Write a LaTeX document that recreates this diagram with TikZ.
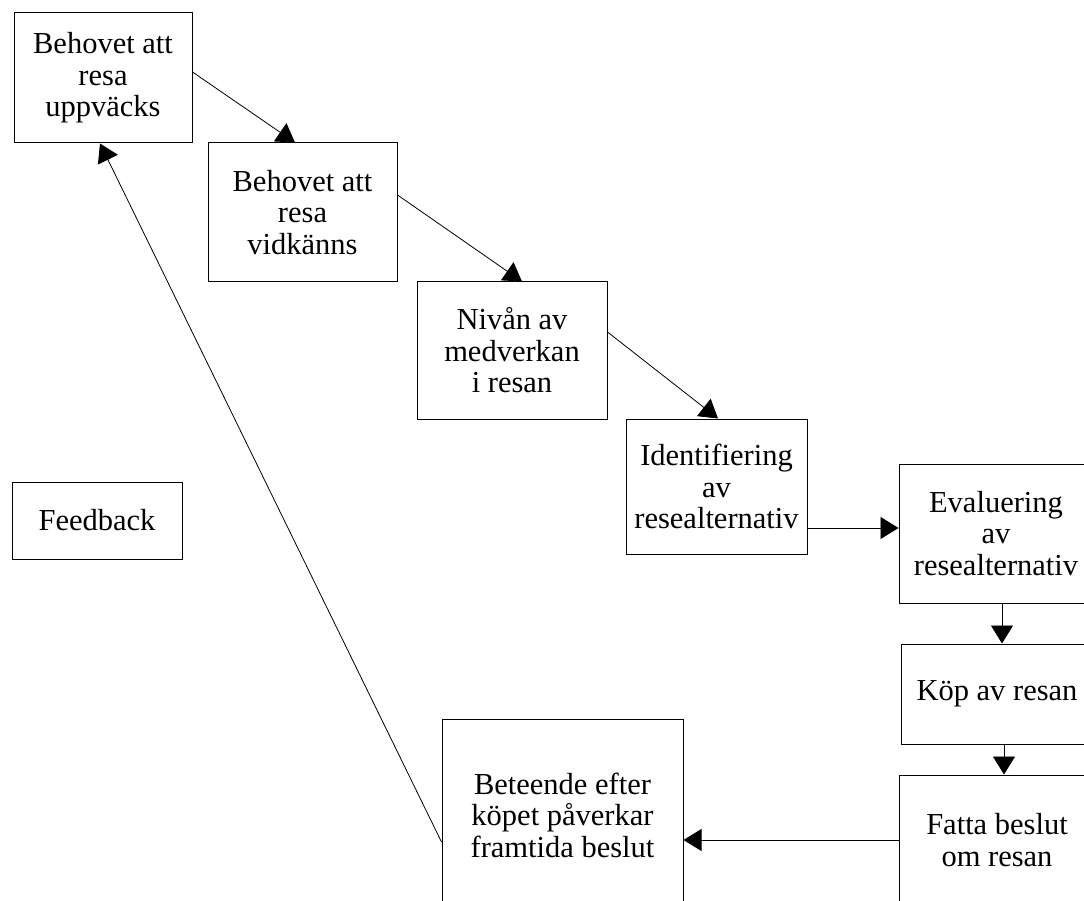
\documentclass[tikz,border=0pt]{standalone}
\usepackage{fontspec}
\setmainfont{Liberation Serif}
\usetikzlibrary{arrows.meta,calc}
\begin{document}
\begin{tikzpicture}[x=1pt,y=-1pt,
  box/.style={draw=black,line width=1pt,inner sep=0pt,align=center,
    font=\fontsize{30.5}{31.5}\selectfont},
  conn/.style={draw=black,line width=0.8pt,-{Triangle[length=18pt,width=22pt]}}]
\useasboundingbox (0,0) rectangle (1084,901);
\clip (0,0) rectangle (1084,901);
\fill[white] (0,0) rectangle (1084,901);
\node[box,minimum width=178pt,minimum height=130pt] (b1) at (103,78) {Behovet att\\resa\\uppväcks};
\node[box,minimum width=189pt,minimum height=139pt] (b2) at (302.5,212.5) {Behovet att\\resa\\vidkänns};
\node[box,minimum width=190pt,minimum height=137pt] (b3) at (512,350.5) {Nivån av\\medverkan\\i resan};
\node[box,minimum width=181pt,minimum height=135pt] (b4) at (716.5,486.5) {Identifiering\\av\\resealternativ};
\node[box,minimum width=194pt,minimum height=139pt] (b5) at (996,533.5) {Evaluering\\av\\resealternativ};
\node[box,minimum width=192pt,minimum height=100pt] (b6) at (997,694) {Köp av resan};
\node[box,minimum width=196pt,minimum height=130pt] (b7) at (997,840) {Fatta beslut\\om resan};
\node[box,minimum width=241pt,minimum height=192pt] (b8) at (562.5,815) {Beteende efter\\köpet påverkar\\framtida beslut};
\node[box,minimum width=170pt,minimum height=77pt] (fb) at (97,520.5) {Feedback};
\draw[conn] ($(b1.east)+(0,-6)$) -- ($(b2.north)+(-7.5,0)$);
\draw[conn] ($(b2.east)+(0,-17.5)$) -- ($(b3.north)+(10,0)$);
\draw[conn] ($(b3.east)+(0,-18.5)$) -- ($(b4.north)+(1.5,0)$);
\draw[conn] ($(b4.east)+(0,41.5)$) coordinate (a4) -- (a4 -| b5.west);
\draw[conn] ($(b5.south)+(6,0)$) coordinate (a5) -- (a5 |- b6.north);
\draw[conn] ($(b6.south)+(7,0)$) coordinate (a6) -- (a6 |- b7.north);
\draw[conn] (b7.west) -- (b7.west -| b8.east);
\draw[conn] ($(b8.west)+(0,27)$) -- ($(b1.south)+(-3,0)$);
\end{tikzpicture}
\end{document}
